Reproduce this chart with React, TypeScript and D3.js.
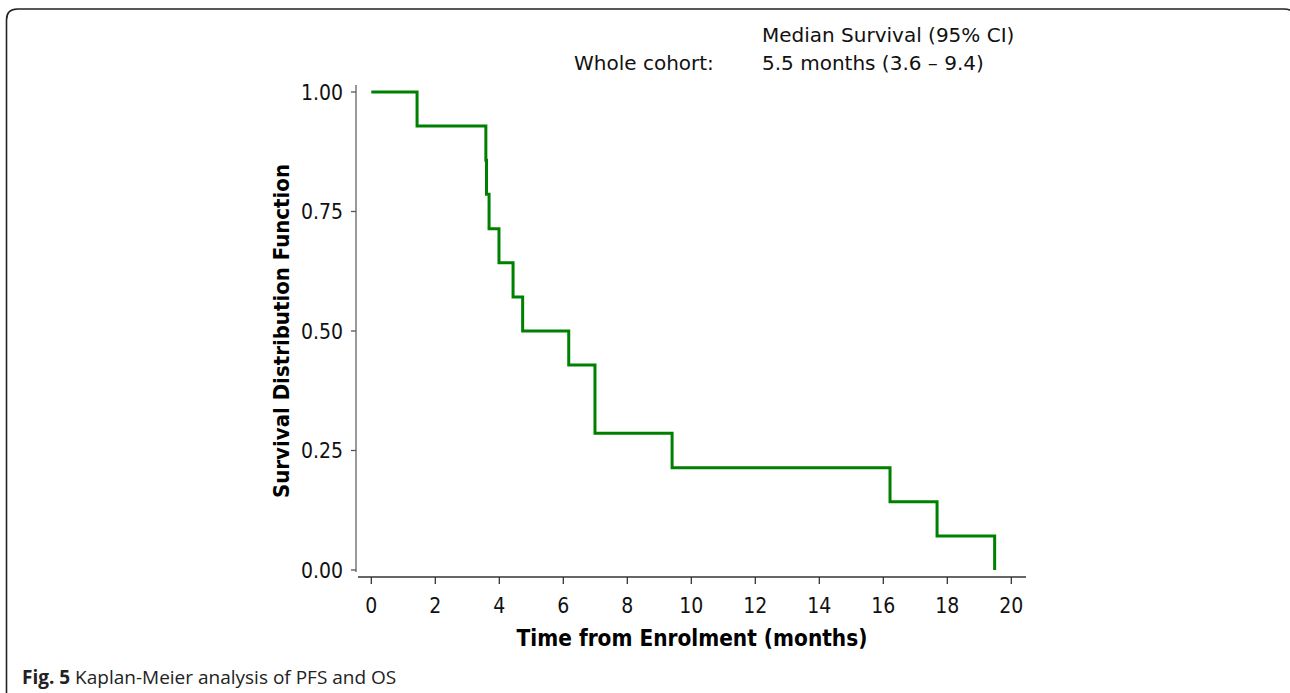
import React from "react";
import * as d3 from "d3";

const eventTimes = [0, 1.43, 3.58, 3.6, 3.68, 3.99, 4.43, 4.73, 6.17, 6.99, 9.4, 16.21, 17.68, 19.48];
const survival = [1, 0.929, 0.857, 0.786, 0.714, 0.643, 0.571, 0.5, 0.429, 0.286, 0.214, 0.143, 0.071, 0];
const xTicks = [0, 2, 4, 6, 8, 10, 12, 14, 16, 18, 20];
const yTicks = [0, 0.25, 0.5, 0.75, 1.0];

const W = 1290;
const H = 693;

export default function App() {
  React.useEffect(() => {
    document.body.style.margin = "0";
  }, []);

  const x = d3.scaleLinear().domain([0, 20]).range([371.3, 1011.3]);
  const y = d3.scaleLinear().domain([0, 1]).range([570, 92]);

  const pts: [number, number][] = eventTimes.map((t, i) => [t, survival[i]]);
  const line = d3
    .line<[number, number]>()
    .x((d) => x(d[0]))
    .y((d) => y(d[1]))
    .curve(d3.curveStepAfter);

  const cond = "'DejaVu Sans Condensed', 'DejaVu Sans', sans-serif";
  const reg = "'DejaVu Sans', sans-serif";
  const axisY = 577;
  const yAxisX = 356;

  const r = 11;
  const bx = 6.5, by = 9, bx2 = 1295, byEnd = 700;
  const border = `M${bx},${byEnd} L${bx},${by + r} Q${bx},${by} ${bx + r},${by} L${bx2 - r},${by} Q${bx2},${by} ${bx2},${by + r} L${bx2},${byEnd}`;

  return (
    <svg width={W} height={H} style={{ display: "block" }} xmlns="http://www.w3.org/2000/svg">
      <rect width={W} height={H} fill="#fff" />
      <path d={border} fill="none" stroke="#222" strokeWidth={1.6} />

      {/* y axis */}
      <line x1={yAxisX} x2={yAxisX} y1={85} y2={572} stroke="#777" strokeWidth={1.5} />
      {yTicks.map((t) => (
        <g key={t}>
          <line x1={yAxisX - 5} x2={yAxisX} y1={y(t)} y2={y(t)} stroke="#555" strokeWidth={1.3} />
          <text x={343} y={y(t)} dy="0.36em" textAnchor="end" fontFamily={cond} fontSize={21} fill="#111">
            {t.toFixed(2)}
          </text>
        </g>
      ))}

      {/* x axis */}
      <line x1={358} x2={1026} y1={axisY} y2={axisY} stroke="#333" strokeWidth={1.5} />
      {xTicks.map((t) => (
        <g key={t}>
          <line x1={x(t)} x2={x(t)} y1={axisY} y2={axisY + 7} stroke="#333" strokeWidth={1.3} />
          <text x={x(t)} y={613} textAnchor="middle" fontFamily={cond} fontSize={21} fill="#111">
            {t}
          </text>
        </g>
      ))}

      <text x={692} y={646} textAnchor="middle" fontFamily={cond} fontWeight="bold" fontSize={22.4} fill="#000">
        Time from Enrolment (months)
      </text>
      <text
        transform={`translate(289,331) rotate(-90)`}
        textAnchor="middle"
        fontFamily={cond}
        fontWeight="bold"
        fontSize={22}
        fill="#000"
      >
        Survival Distribution Function
      </text>

      <path d={line(pts) || ""} fill="none" stroke="#008000" strokeWidth={3} />

      <text x={762} y={42} fontFamily={reg} fontSize={20} fill="#111">
        Median Survival (95% CI)
      </text>
      <text x={574} y={70} fontFamily={reg} fontSize={20} fill="#111">
        Whole cohort:
      </text>
      <text x={762} y={70} fontFamily={reg} fontSize={20} fill="#111">
        5.5 months (3.6 – 9.4)
      </text>

      <text x={22} y={684} fontFamily="'Open Sans', sans-serif" fontSize={19} fill="#222">
        <tspan fontWeight="bold">Fig. 5</tspan> Kaplan-Meier analysis of PFS and OS
      </text>
    </svg>
  );
}
